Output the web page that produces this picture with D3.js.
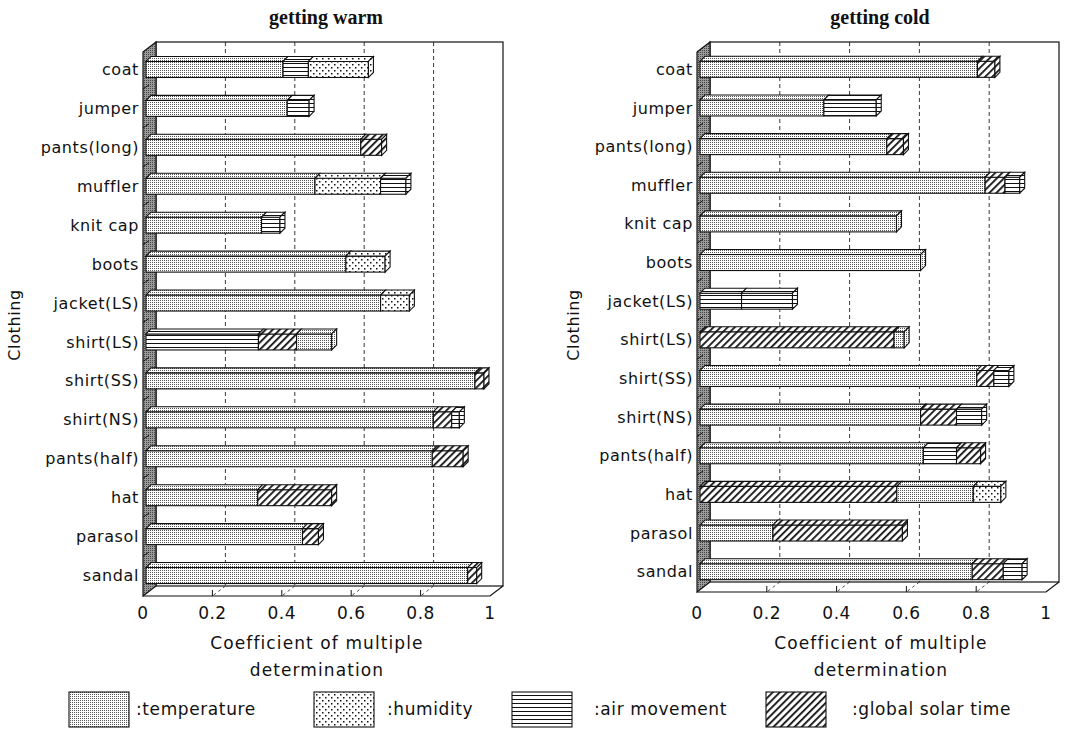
<!DOCTYPE html>
<html>
<head>
<meta charset="utf-8">
<script src="https://d3js.org/d3.v7.min.js"></script>
<style>
  body { margin: 0; background: #fff; }
  .lbl { font-family: "DejaVu Sans", sans-serif; fill: #111; }
  .ttl { font-family: "Liberation Serif", serif; font-weight: bold; fill: #111; }
</style>
</head>
<body>
<div id="chart"></div>
<script>
var clothing = ["coat", "jumper", "pants(long)", "muffler", "knit cap", "boots", "jacket(LS)",
  "shirt(LS)", "shirt(SS)", "shirt(NS)", "pants(half)", "hat", "parasol", "sandal"];
var factors = ["temperature", "humidity", "air movement", "global solar time"];
var tick_values = [0, 0.2, 0.4, 0.6, 0.8, 1];
var tick_labels = ["0", "0.2", "0.4", "0.6", "0.8", "1"];

// order in which the factors enter, and the cumulative R2 after each one
var warm_order = [
  ["temperature", "air movement", "humidity"],
  ["temperature", "air movement"],
  ["temperature", "global solar time"],
  ["temperature", "humidity", "air movement"],
  ["temperature", "air movement"],
  ["temperature", "humidity"],
  ["temperature", "humidity"],
  ["air movement", "global solar time", "temperature"],
  ["temperature", "global solar time"],
  ["temperature", "global solar time", "air movement"],
  ["temperature", "global solar time"],
  ["temperature", "global solar time"],
  ["temperature", "global solar time"],
  ["temperature", "global solar time"]
];
var warm_r2 = [
  [0.395, 0.468, 0.641], [0.407, 0.47], [0.619, 0.679], [0.487, 0.676, 0.749],
  [0.333, 0.386], [0.576, 0.689], [0.676, 0.759], [0.324, 0.434, 0.535],
  [0.948, 0.974], [0.828, 0.881, 0.903], [0.825, 0.914], [0.322, 0.535],
  [0.451, 0.497], [0.927, 0.953]
];

var cold_order = [
  ["temperature", "global solar time"],
  ["temperature", "air movement"],
  ["temperature", "global solar time"],
  ["temperature", "global solar time", "air movement"],
  ["temperature"],
  ["temperature"],
  ["air movement", "air movement"],
  ["global solar time", "temperature"],
  ["temperature", "global solar time", "air movement"],
  ["temperature", "global solar time", "air movement"],
  ["temperature", "air movement", "global solar time"],
  ["global solar time", "temperature", "humidity"],
  ["temperature", "global solar time"],
  ["temperature", "global solar time", "air movement"]
];
var cold_r2 = [
  [0.795, 0.845], [0.355, 0.505], [0.535, 0.583], [0.817, 0.874, 0.916],
  [0.563], [0.632], [0.119, 0.265], [0.556, 0.585],
  [0.793, 0.842, 0.885], [0.632, 0.735, 0.807], [0.64, 0.735, 0.804],
  [0.564, 0.783, 0.862], [0.209, 0.58], [0.78, 0.869, 0.923]
];

var svg = d3.select("#chart").append("svg")
    .attr("width", 1067)
    .attr("height", 731);

var defs = svg.append("defs");

// fine dither for temperature
var p = defs.append("pattern").attr("id", "pat_temperature")
    .attr("patternUnits", "userSpaceOnUse").attr("width", 2).attr("height", 2);
p.append("rect").attr("width", 2).attr("height", 2).attr("fill", "#fff");
p.append("rect").attr("width", 1).attr("height", 1).attr("fill", "#555");

// sparse dots for humidity
p = defs.append("pattern").attr("id", "pat_humidity")
    .attr("patternUnits", "userSpaceOnUse").attr("width", 6).attr("height", 6);
p.append("rect").attr("width", 6).attr("height", 6).attr("fill", "#fff");
p.append("rect").attr("x", 1).attr("y", 1).attr("width", 1.5).attr("height", 1.5).attr("fill", "#111");
p.append("rect").attr("x", 4).attr("y", 4).attr("width", 1.5).attr("height", 1.5).attr("fill", "#111");

// horizontal lines for air movement
p = defs.append("pattern").attr("id", "pat_air")
    .attr("patternUnits", "userSpaceOnUse").attr("width", 4).attr("height", 4);
p.append("rect").attr("width", 4).attr("height", 4).attr("fill", "#fff");
p.append("rect").attr("y", 3).attr("width", 4).attr("height", 1).attr("fill", "#111");

// diagonal hatch for solar
p = defs.append("pattern").attr("id", "pat_solar")
    .attr("patternUnits", "userSpaceOnUse").attr("width", 5).attr("height", 5)
    .attr("patternTransform", "rotate(45)");
p.append("rect").attr("width", 5).attr("height", 5).attr("fill", "#fff");
p.append("rect").attr("width", 1.8).attr("height", 5).attr("fill", "#111");

// side wall
p = defs.append("pattern").attr("id", "pat_wall")
    .attr("patternUnits", "userSpaceOnUse").attr("width", 2).attr("height", 2);
p.append("rect").attr("width", 2).attr("height", 2).attr("fill", "#9a9a9a");
p.append("rect").attr("width", 1).attr("height", 1).attr("fill", "#444");

var fill_of = {
  "temperature": "url(#pat_temperature)",
  "humidity": "url(#pat_humidity)",
  "air movement": "url(#pat_air)",
  "global solar time": "url(#pat_solar)"
};

var depth = {dx: 13, dy: -10},
    bar_off = 3,
    bar_h = 16,
    bar_d = {dx: 5, dy: -5};

function draw_chart(cfg, order, r2) {
  var g = svg.append("g");

  var x = d3.scaleLinear().domain([0, 1]).range([cfg.ox, cfg.ox + cfg.w]);
  var y = d3.scaleBand().domain(clothing).range([cfg.y0, cfg.y1]);
  var bottom = cfg.y1 + 1,
      top = cfg.y0 + 2;

  // back wall
  g.append("rect")
    .attr("x", x(0) + depth.dx)
    .attr("y", top + depth.dy)
    .attr("width", cfg.w)
    .attr("height", bottom - top)
    .attr("fill", "#fff")
    .attr("stroke", "#111")
    .attr("stroke-width", 1.2);

  // grid on back wall and floor
  tick_values.slice(1, -1).forEach(function(v) {
    g.append("line")
      .attr("x1", x(v) + depth.dx).attr("x2", x(v) + depth.dx)
      .attr("y1", top + depth.dy).attr("y2", bottom + depth.dy)
      .attr("stroke", "#222").attr("stroke-width", 0.9)
      .attr("stroke-dasharray", "4,3");
    g.append("line")
      .attr("x1", x(v) + depth.dx).attr("x2", x(v))
      .attr("y1", bottom + depth.dy).attr("y2", bottom)
      .attr("stroke", "#222").attr("stroke-width", 0.8)
      .attr("stroke-dasharray", "3,3");
    g.append("line")
      .attr("x1", x(v)).attr("x2", x(v))
      .attr("y1", bottom).attr("y2", bottom - 6)
      .attr("stroke", "#111").attr("stroke-width", 1);
  });

  // floor outline
  g.append("path")
    .attr("d", "M" + x(0) + "," + bottom + "L" + x(1) + "," + bottom +
      "L" + (x(1) + depth.dx) + "," + (bottom + depth.dy))
    .attr("fill", "none")
    .attr("stroke", "#111")
    .attr("stroke-width", 1.2);

  // left wall
  g.append("polygon")
    .attr("points", x(0) + "," + top + " " + (x(0) + depth.dx) + "," + (top + depth.dy) + " " +
      (x(0) + depth.dx) + "," + (bottom + depth.dy) + " " + x(0) + "," + bottom)
    .attr("fill", "url(#pat_wall)")
    .attr("stroke", "#111")
    .attr("stroke-width", 1.2);

  clothing.slice(1).forEach(function(c) {
    g.append("line")
      .attr("x1", x(0)).attr("x2", x(0) + 6)
      .attr("y1", y(c)).attr("y2", y(c) - 4)
      .attr("stroke", "#111").attr("stroke-width", 1);
  });

  // bars
  clothing.forEach(function(c, i) {
    var cy = y(c) + y.bandwidth() / 2,
        yt = cy - bar_h / 2,
        yb = cy + bar_h / 2,
        start = 0;
    order[i].forEach(function(f, k) {
      var end = r2[i][k],
          xs = x(start) + bar_off,
          xe = x(end) + bar_off;
      g.append("rect")
        .attr("x", xs).attr("y", yt)
        .attr("width", xe - xs).attr("height", bar_h)
        .attr("fill", fill_of[f])
        .attr("stroke", "#111").attr("stroke-width", 1.1);
      g.append("polygon")
        .attr("points", xs + "," + yt + " " + (xs + bar_d.dx) + "," + (yt + bar_d.dy) + " " +
          (xe + bar_d.dx) + "," + (yt + bar_d.dy) + " " + xe + "," + yt)
        .attr("fill", fill_of[f])
        .attr("stroke", "#111").attr("stroke-width", 1.1);
      if (k == order[i].length - 1) {
        g.append("polygon")
          .attr("points", xe + "," + yt + " " + (xe + bar_d.dx) + "," + (yt + bar_d.dy) + " " +
            (xe + bar_d.dx) + "," + (yb + bar_d.dy) + " " + xe + "," + yb)
          .attr("fill", fill_of[f])
          .attr("stroke", "#111").attr("stroke-width", 1.1);
      }
      start = end;
    });

    g.append("text")
      .attr("class", "lbl")
      .attr("x", x(0) - 4)
      .attr("y", cy)
      .attr("dy", "0.35em")
      .attr("text-anchor", "end")
      .attr("font-size", 16)
      .attr("letter-spacing", 0.6)
      .text(c);
  });

  // x tick labels
  tick_values.forEach(function(v, k) {
    g.append("text")
      .attr("class", "lbl")
      .attr("x", x(v))
      .attr("y", 619)
      .attr("text-anchor", "middle")
      .attr("font-size", 17)
      .attr("letter-spacing", 0.5)
      .text(tick_labels[k]);
  });

  g.append("text")
    .attr("class", "ttl")
    .attr("x", cfg.title_x)
    .attr("y", 24)
    .attr("text-anchor", "middle")
    .attr("font-size", 20)
    .text(cfg.title);

  g.append("text")
    .attr("class", "lbl")
    .attr("x", cfg.xlab_x)
    .attr("y", 649)
    .attr("text-anchor", "middle")
    .attr("font-size", 17)
    .attr("letter-spacing", 1.1)
    .text("Coefficient of multiple");
  g.append("text")
    .attr("class", "lbl")
    .attr("x", cfg.xlab_x)
    .attr("y", 676)
    .attr("text-anchor", "middle")
    .attr("font-size", 17)
    .attr("letter-spacing", 1.1)
    .text("determination");

  g.append("text")
    .attr("class", "lbl")
    .attr("transform", "translate(" + cfg.ylab_x + ",325) rotate(-90)")
    .attr("text-anchor", "middle")
    .attr("font-size", 16)
    .attr("letter-spacing", 0.6)
    .text("Clothing");
}

draw_chart({ox: 143, w: 347, y0: 50, y1: 595, title: "getting warm", title_x: 326, xlab_x: 317, ylab_x: 20},
  warm_order, warm_r2);
draw_chart({ox: 697, w: 349, y0: 50, y1: 591, title: "getting cold", title_x: 880, xlab_x: 881, ylab_x: 579},
  cold_order, cold_r2);

// legend
var legend_x = [69, 314, 512, 766],
    legend_text_x = [136, 387, 594, 852];
factors.forEach(function(f, k) {
  svg.append("rect")
    .attr("x", legend_x[k])
    .attr("y", 692)
    .attr("width", 60)
    .attr("height", 35)
    .attr("fill", fill_of[f])
    .attr("stroke", "#111")
    .attr("stroke-width", 1.1);
  svg.append("text")
    .attr("class", "lbl")
    .attr("x", legend_text_x[k])
    .attr("y", 709)
    .attr("dy", "0.35em")
    .attr("font-size", 17)
    .attr("letter-spacing", 0.6)
    .text(":" + f);
});
</script>
</body>
</html>
